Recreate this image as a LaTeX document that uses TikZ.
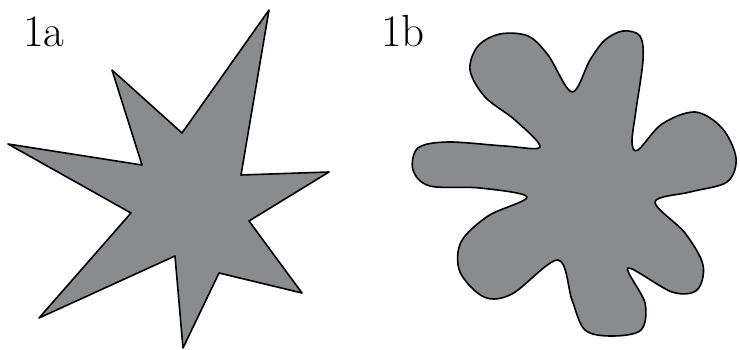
\documentclass[tikz,border=0pt]{standalone}
\definecolor{shapegray}{RGB}{137,139,143}
\tikzset{
  shapefill/.style={fill=shapegray, draw=black, line width=1.6pt, line join=round},
  lbl/.style={anchor=base west, inner sep=0pt, font=\rmfamily\fontsize{45}{45}\selectfont}
}
\begin{document}
\begin{tikzpicture}[x=1pt,y=-1pt]
\useasboundingbox (0,0) rectangle (740,350);
% 1a : spiky star
\draw[shapefill] (269,10) -- (241,175) -- (329,172) -- (249,221) -- (302,293)
  -- (219,273) -- (183,348) -- (175,256) -- (39,318) -- (131,213) -- (8,144)
  -- (142,165) -- (112,70) -- (182,133) -- cycle;
% 1b : rounded blob
\draw[shapefill] plot[smooth cycle, tension=0.55] coordinates {
  (540,147) (515,120) (485,97) (470,70) (478,46) (500,34) (528,36) (548,55)
  (572,92)
  (590,60) (605,40) (623,31) (640,36) (643,60) (636,110) (632,142)
  (638,150)
  (662,124) (695,112) (722,128) (736,158) (727,182) (690,192)
  (655,202)
  (685,233) (703,265) (697,290) (672,292)
  (628,268)
  (645,303) (641,330) (612,336) (585,330) (572,300)
  (558,260)
  (512,294) (484,297) (460,272) (461,242) (488,216)
  (527,197)
  (480,188) (430,186) (413,170) (418,148) (448,142) (505,146)
};
\node[lbl] (la) at (23,47) {1a};
\node[lbl] (lb) at (381,47) {1b};
\end{tikzpicture}
\end{document}
